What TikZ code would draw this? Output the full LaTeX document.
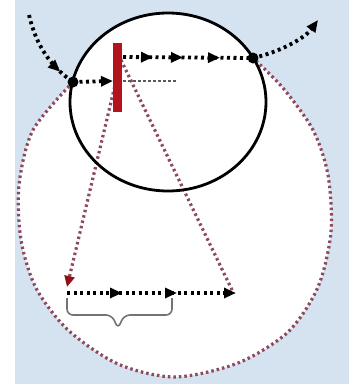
\documentclass[tikz,border=0pt]{standalone}
\usetikzlibrary{arrows.meta,decorations.markings}
\definecolor{bgblue}{HTML}{D5E3F1}
\definecolor{redbar}{HTML}{B3141B}
\definecolor{reddot}{HTML}{8E4A5C}
\begin{document}
\begin{tikzpicture}[x=1pt,y=-1pt,
  blackdots/.style={line width=3.8pt, dash pattern=on 3pt off 3.5pt, black},
  greydots/.style={line width=2.4pt, dash pattern=on 2.5pt off 2.5pt, black!65},
  reddots/.style={line width=3.2pt, dash pattern=on 2.5pt off 3pt, reddot},
  tipmark/.style={postaction={decorate, decoration={markings, mark=at position #1 with {\arrow{Triangle[length=12pt,width=10pt]}}}}},
  dotnode/.style={circle, fill=black, inner sep=0pt, minimum size=11pt}
  ]
\useasboundingbox (0,0) rectangle (349,384);
\fill[white] (0,0) rectangle (349,384);
\fill[bgblue] (15,0) rectangle (349,384);
% coordinates
\coordinate (L) at (73,82);
\coordinate (R) at (253,58);
\coordinate (bartop) at (121,60);
\coordinate (in) at (29,15);
\coordinate (out) at (318,20);
\coordinate (barL) at (113,81);
\coordinate (barR) at (123,81);
\coordinate (greyend) at (177,81);
\coordinate (topstart) at (123,57);
\coordinate (redtip) at (67,287);
\coordinate (bstart) at (67,293);
\coordinate (bend) at (236,293);
\coordinate (redend) at (233,292);
% white interior of big shape
\fill[white] plot[smooth] coordinates {(73,82) (33,130) (19,185) (21,240) (36,288) (68,330) (118,364) (175,377) (238,363) (288,332) (318,287) (331,232) (328,175) (313,130) (283,88) (253,58)} -- cycle;
\fill[white] (168,102) ellipse [x radius=98, y radius=89];
% red dotted outline
\draw[reddots] plot[smooth] coordinates {(73,82) (33,130) (19,185) (21,240) (36,288) (68,330) (118,364) (175,377) (238,363) (288,332) (318,287) (331,232) (328,175) (313,130) (283,88) (253,58)};
% red lines
\draw[reddots, -{Triangle[length=11pt,width=10pt,fill=redbar!80!black,color=redbar!80!black]}] (bartop) -- (redtip);
\draw[reddots] (bartop) -- (redend);
% black circle
\draw[line width=2.8pt] (168,102) ellipse [x radius=98, y radius=89];
% incoming / outgoing
\draw[blackdots, tipmark=0.8] (in) .. controls (36,45) and (50,66) .. (L);
\draw[blackdots, -{Triangle[length=12pt,width=10pt]}] (R) .. controls (280,52) and (305,38) .. (out);
% top arrow line
\draw[blackdots, tipmark=30pt, tipmark=60pt, tipmark=97pt] (topstart) -- (R);
% lower line
\draw[blackdots, -{Triangle[length=12pt,width=10pt]}] (L) -- (barL);
\draw[greydots] (barR) -- (greyend);
% bottom line
\draw[blackdots, tipmark=55pt, tipmark=110pt, -{Triangle[length=12pt,width=10pt]}] (bstart) -- (bend);
% brace
\draw[black!55, line width=1.6pt, rounded corners=6pt] (67,298) -- (67,315) -- (112,315) -- (118,329) -- (124,315) -- (172,315) -- (172,298);
% bar
\fill[redbar] (113,43) rectangle (122,112);
% dots
\node[dotnode] (Ldot) at (L) {};
\node[dotnode] (Rdot) at (R) {};
\end{tikzpicture}
\end{document}
